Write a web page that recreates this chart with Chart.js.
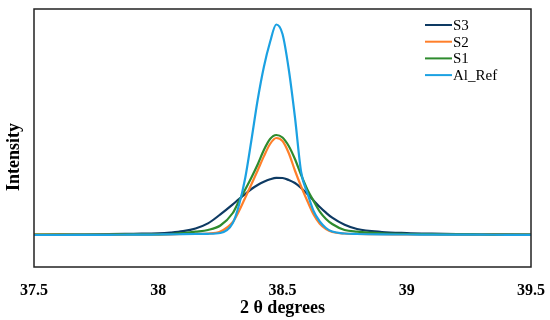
<!DOCTYPE html>
<html>
<head>
<meta charset="utf-8">
<script src="https://cdn.jsdelivr.net/npm/chart.js@4.4.1/dist/chart.umd.min.js"></script>
<style>
  html, body { margin: 0; padding: 0; background: #fff; }
</style>
</head>
<body>
<canvas id="xrd" width="550" height="320"></canvas>
<script>
// 2 theta positions (degrees), denser around the Al (111) peak
const twoTheta = [37.5, 37.6, 37.7, 37.8, 37.9, 38.0, 38.05, 38.1, 38.15, 38.2, 38.25, 38.3, 38.325, 38.35, 38.375, 38.4, 38.425, 38.45, 38.475, 38.5, 38.525, 38.55, 38.575, 38.6, 38.625, 38.65, 38.675, 38.7, 38.75, 38.8, 38.9, 39.0, 39.1, 39.2, 39.3, 39.4, 39.5];

// intensities (arbitrary units)
const s3 = [0.2, 0.3, 0.5, 0.8, 1.2, 1.6, 2.4, 3.8, 6.5, 11.6, 20.6, 30.6, 36, 41, 46, 50, 53.2, 55.7, 57.2, 57, 55, 52, 47, 41, 34.5, 28, 22.3, 17.3, 10.2, 6, 3, 1.9, 1.3, 0.9, 0.7, 0.6, 0.5];
const s2 = [0.3, 0.3, 0.4, 0.4, 0.5, 0.5, 0.7, 1, 1.2, 1.5, 3.5, 13, 24, 37.3, 50.7, 64.5, 78.6, 91, 97, 94, 82, 64.5, 48.5, 34, 20.5, 11.3, 6, 3, 1.5, 1, 0.8, 0.6, 0.5, 0.5, 0.4, 0.4, 0.4];
const s1 = [0.3, 0.3, 0.4, 0.5, 0.6, 0.7, 1, 2, 3.3, 5, 9.5, 22, 34, 45.5, 57.5, 70.5, 85, 96, 100, 97.5, 89, 76, 60, 45.5, 34, 23.3, 16, 11, 5, 3.3, 1.6, 1, 0.8, 0.6, 0.5, 0.4, 0.4];
const alRef = [0, 0, 0.1, 0.2, 0.3, 0.5, 0.6, 0.8, 1, 1.2, 2, 12, 30, 57, 95, 135, 168, 193, 210.5, 201, 166, 118, 63, 42, 24, 13.5, 7, 3.5, 1.5, 1, 0.6, 0.5, 0.4, 0.3, 0.3, 0.2, 0.2];

const seriesLabels = ['S3', 'S2', 'S1', 'Al_Ref'];
const seriesColors = ['#0E3A63', '#FF7F2A', '#2E8B2E', '#1BA1E2'];

const xTickValues = [37.5, 38, 38.5, 39, 39.5];
const xTickLabels = ['37.5', '38', '38.5', '39', '39.5'];

const serif = "'Liberation Serif', 'Times New Roman', serif";

const toPoints = (ys) => twoTheta.map((x, i) => ({ x: x, y: ys[i] }));
const allSeries = [s3, s2, s1, alRef];

// box around the plot, the legend and the y title
const framePlugin = {
  id: 'framePlugin',
  afterDraw(chart) {
    const { ctx, chartArea } = chart;
    ctx.save();
    ctx.strokeStyle = '#222';
    ctx.lineWidth = 1.5;
    ctx.strokeRect(chartArea.left, chartArea.top, chartArea.right - chartArea.left, chartArea.bottom - chartArea.top);

    // legend (top right, inside the plot)
    ctx.font = '15px ' + serif;
    ctx.textBaseline = 'middle';
    ctx.textAlign = 'left';
    chart.data.datasets.forEach((ds, i) => {
      const y = 25 + i * 16.7;
      ctx.strokeStyle = ds.borderColor;
      ctx.lineWidth = 2;
      ctx.beginPath();
      ctx.moveTo(425, y);
      ctx.lineTo(452, y);
      ctx.stroke();
      ctx.fillStyle = '#000';
      ctx.fillText(ds.label, 453, y + 1);
    });

    // y axis title
    ctx.translate(14, 157);
    ctx.rotate(-Math.PI / 2);
    ctx.font = 'bold 18px ' + serif;
    ctx.textAlign = 'center';
    ctx.fillStyle = '#000';
    ctx.fillText('Intensity', 0, 0);
    ctx.restore();
  }
};

new Chart(document.getElementById('xrd'), {
  type: 'line',
  data: {
    datasets: seriesLabels.map((label, i) => ({
      label: label,
      data: toPoints(allSeries[i]),
      borderColor: seriesColors[i],
      backgroundColor: seriesColors[i],
      borderWidth: 2.2,
      pointRadius: 0,
      fill: false,
      cubicInterpolationMode: 'monotone',
      order: seriesLabels.length - i // Al_Ref on top
    }))
  },
  options: {
    responsive: false,
    animation: false,
    devicePixelRatio: 1,
    layout: { padding: { left: 34, right: 19, top: 9, bottom: 0 } },
    plugins: {
      legend: { display: false },
      tooltip: { enabled: false }
    },
    scales: {
      x: {
        type: 'linear',
        min: 37.5,
        max: 39.5,
        afterBuildTicks: (axis) => { axis.ticks = xTickValues.map(v => ({ value: v })); },
        afterFit: (axis) => {
          axis.height = 53;
          axis.paddingLeft = 0;
          axis.paddingRight = 0;
        },
        grid: { display: false, drawTicks: false },
        border: { display: false },
        ticks: {
          autoSkip: false,
          maxRotation: 0,
          padding: 14,
          color: '#000',
          font: { family: serif, size: 16, weight: 'bold' },
          callback: (value, index) => xTickLabels[index]
        },
        title: {
          display: true,
          text: '2 θ degrees',
          color: '#000',
          font: { family: serif, size: 18, weight: 'bold', lineHeight: 1.1 },
          padding: { top: 0, bottom: 2 }
        }
      },
      y: {
        display: false,
        min: -32,
        max: 226
      }
    }
  },
  plugins: [framePlugin]
});
</script>
</body>
</html>
